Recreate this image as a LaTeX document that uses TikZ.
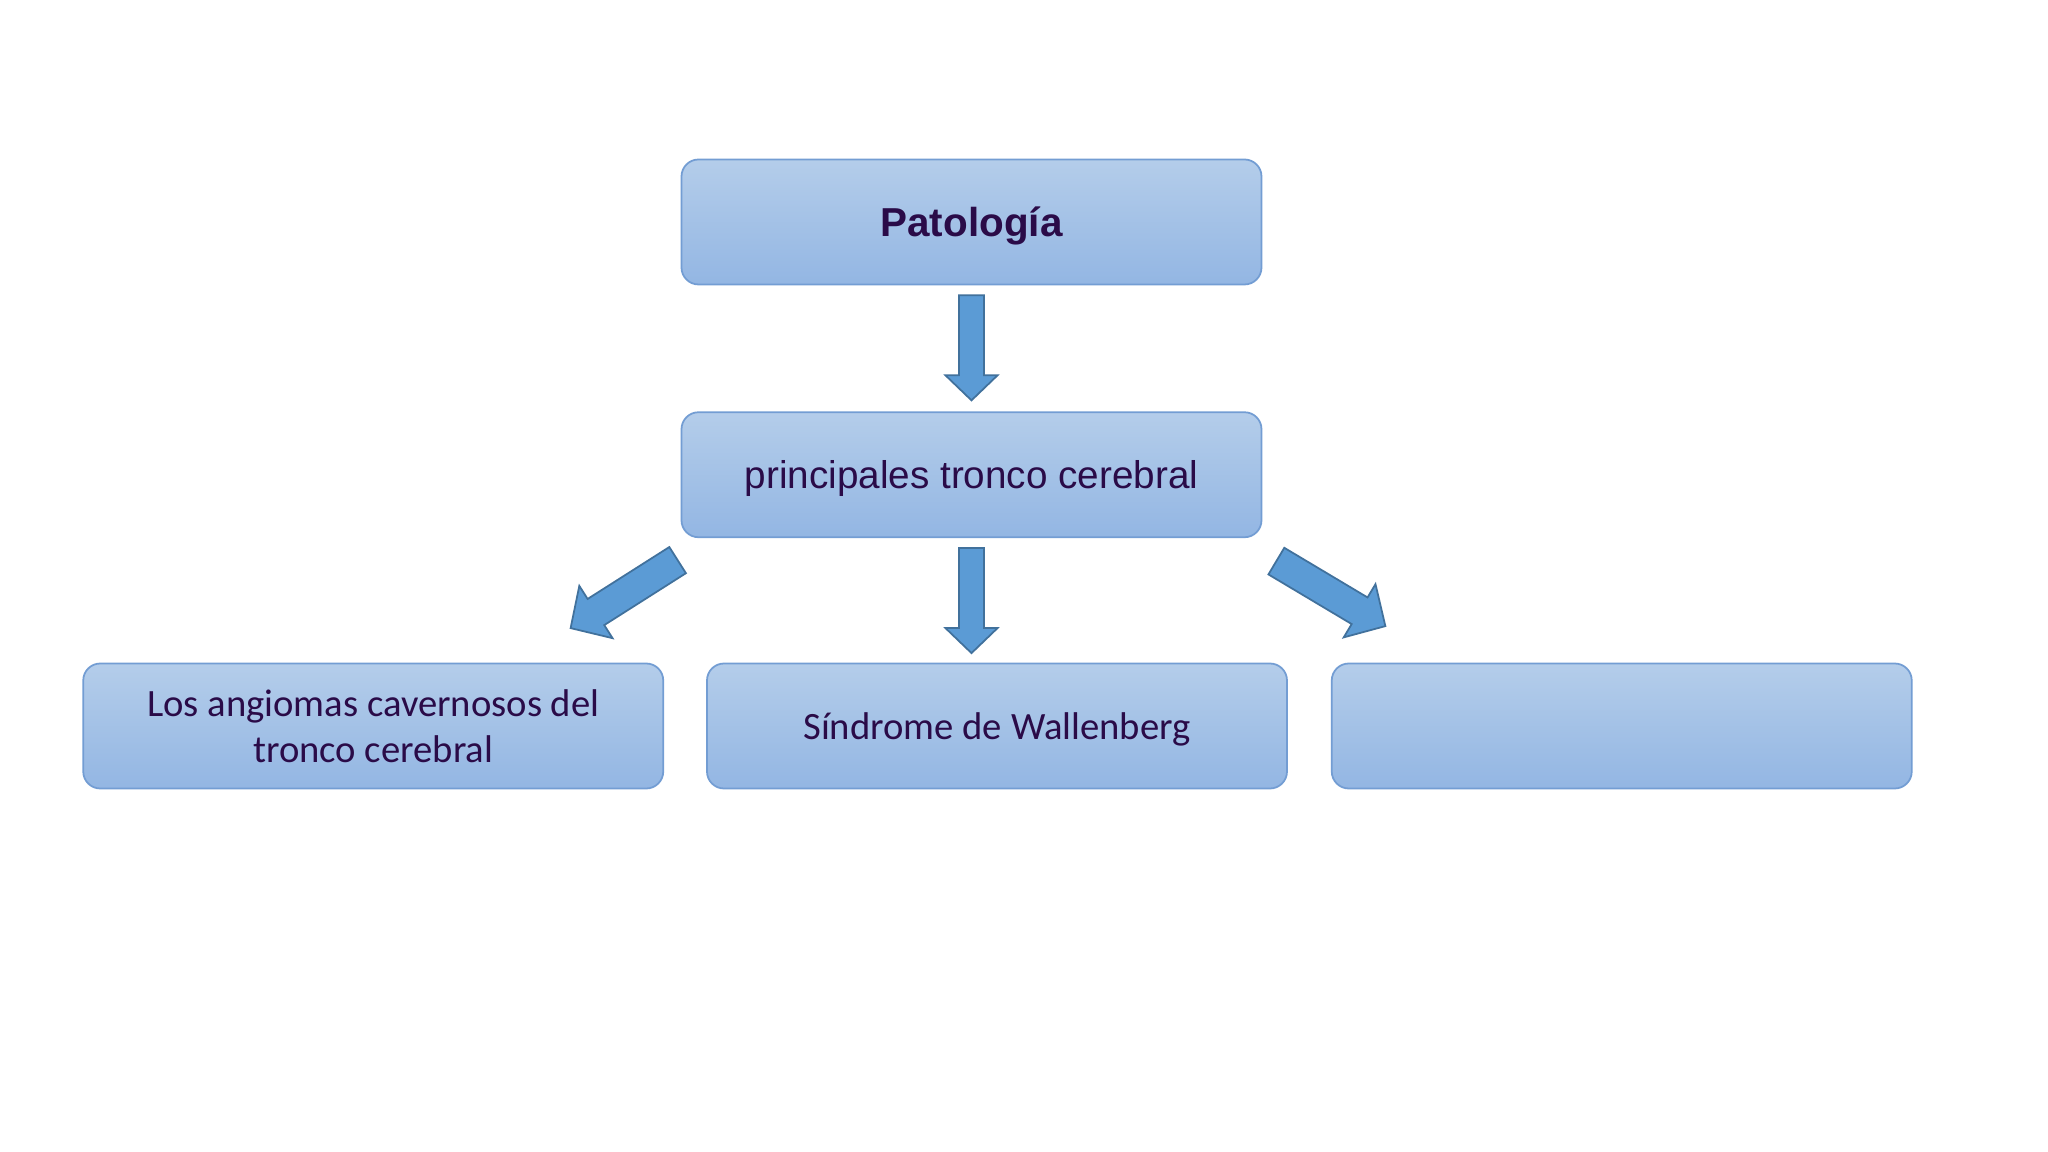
\documentclass[tikz,border=0pt]{standalone}
\usepackage{fontspec}
\setmainfont{Liberation Sans}
\newfontfamily\calibrifont{Carlito}
\usetikzlibrary{positioning,calc}
\definecolor{boxtop}{HTML}{B4CDEA}
\definecolor{boxbottom}{HTML}{93B6E3}
\definecolor{boxline}{HTML}{739DD3}
\definecolor{arrowfill}{HTML}{5B9BD5}
\definecolor{arrowline}{HTML}{41719C}
\definecolor{inkpurple}{HTML}{2A0B48}
\tikzset{
  pbox/.style={draw=boxline,rounded corners=0.17cm,top color=boxtop,bottom color=boxbottom,
    minimum width=5.80cm,minimum height=1.25cm,align=center,text=inkpurple,
    font=\fontsize{11}{13.2}\selectfont,line width=0.5pt,inner sep=2pt},
  pboxtop/.style={pbox,text depth=0pt},
  pboxlow/.style={pbox,font=\calibrifont\fontsize{11}{13.2}\selectfont},
  blockarrow/.style={fill=arrowfill,draw=arrowline,line width=0.5pt,line join=miter}
}
% #1 tail, #2 tip, #3 half shaft, #4 half head, #5 head length
\newcommand{\fatarrow}[5]{%
  \path ($(#2)!#5!(#1)$) coordinate (ah);
  \draw[blockarrow] ($(#1)!#3!90:(#2)$) -- ($(ah)!#3!-90:(#1)$) -- ($(ah)!#4!-90:(#1)$)
    -- (#2) -- ($(ah)!#4!90:(#1)$) -- ($(ah)!#3!90:(#1)$) -- ($(#1)!#3!-90:(#2)$) -- cycle;
}

\begin{document}
\begin{tikzpicture}[node distance=1.26cm and 0.42cm]
  \fill[white] (0,0) rectangle (20.48,11.52);
  \useasboundingbox (0,0) rectangle (20.48,11.52);
  \node[pboxtop,font=\bfseries\fontsize{11.5}{13.8}\selectfont] (pat) at (9.715,9.30) {Patología};
  \node[pboxtop,below=of pat] (tronco) {principales tronco cerebral};
  \node[pboxlow,text depth=0pt,below=1.245cm of tronco,xshift=0.255cm] (wall) {Síndrome de Wallenberg};
  \node[pboxlow,left=of wall] (angio) {Los angiomas cavernosos del\\tronco cerebral};
  \node[pboxlow,right=0.43cm of wall] (blank) {};
  % arrow ends
  \coordinate (a1) at ($(pat.south)+(0,-0.10)$);
  \coordinate (b1) at ($(pat.south)+(0,-1.15)$);
  \coordinate (a2) at ($(tronco.south)+(0,-0.10)$);
  \coordinate (b2) at ($(tronco.south)+(0,-1.15)$);
  \coordinate (a3) at ($(tronco.south west)+(-0.03,-0.22)$);
  \coordinate (b3) at ($(tronco.south west)+(-1.10,-0.90)$);
  \coordinate (a4) at ($(tronco.south east)+(0.14,-0.23)$);
  \coordinate (b4) at ($(tronco.south east)+(1.23,-0.88)$);
  \fatarrow{a1}{b1}{0.125cm}{0.26cm}{0.25cm}
  \fatarrow{a2}{b2}{0.125cm}{0.26cm}{0.25cm}
  \fatarrow{a3}{b3}{0.155cm}{0.31cm}{0.30cm}
  \fatarrow{a4}{b4}{0.155cm}{0.31cm}{0.30cm}
\end{tikzpicture}
\end{document}
